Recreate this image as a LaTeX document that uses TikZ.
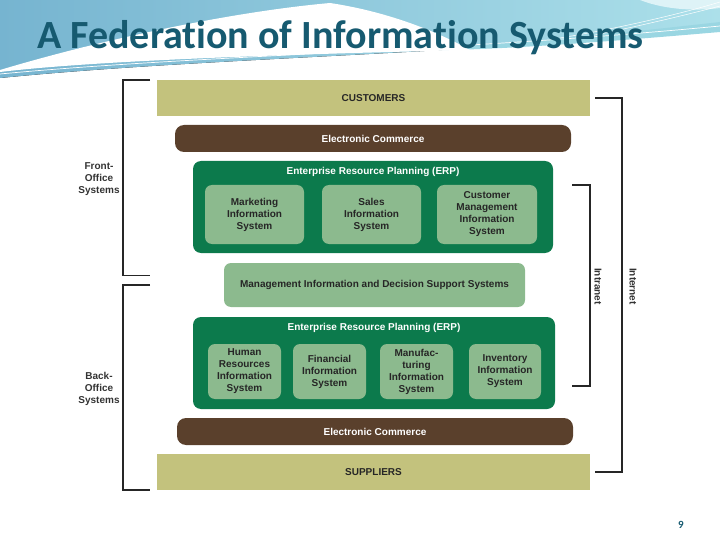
\documentclass[tikz,border=0pt]{standalone}
\usepackage{fontspec}
\setmainfont{Liberation Sans}
\newfontfamily\titlefont[Ligatures=NoCommon]{Carlito}
\definecolor{olivebox}{RGB}{195,194,125}
\definecolor{brownbox}{RGB}{90,64,44}
\definecolor{erpgreen}{RGB}{12,122,76}
\definecolor{lightgreen}{RGB}{140,186,142}
\definecolor{titleblue}{RGB}{22,90,112}
\definecolor{bgblueA}{RGB}{118,180,208}
\definecolor{bgblueB}{RGB}{172,224,234}
\definecolor{bgcyan}{RGB}{110,196,214}
\tikzset{
  layer/.style={inner sep=0pt, font=\bfseries\fontsize{10}{12}\selectfont},
  olivelayer/.style={layer, fill=olivebox, text=black!85},
  ecl/.style={layer, fill=brownbox, text=white, rounded corners=9pt},
  erp/.style={layer, fill=erpgreen, rounded corners=8pt},
  erptitle/.style={text=white, font=\bfseries\fontsize{10}{12}\selectfont, inner sep=0pt},
  sysbox/.style={layer, fill=lightgreen, text=black!85, rounded corners=7pt, align=center},
  brk/.style={line width=1.6pt, black!85},
  sidelabel/.style={align=center, font=\bfseries\fontsize{10}{12}\selectfont, text=black!80, inner sep=0pt},
}
\begin{document}
\begin{tikzpicture}[x=1pt,y=-1pt]
\useasboundingbox (0,0) rectangle (720,540);
% background header
\fill[left color=bgblueA, right color=bgblueB] (0,0) -- (720,0) -- (720,30) .. controls (450,55) and (200,58) .. (0,78) -- cycle;
\fill[bgcyan!70!white] (720,22) .. controls (560,40) and (460,48) .. (400,50) .. controls (470,52) and (580,44) .. (720,32) -- cycle;
\fill[white] (0,70) .. controls (100,40) and (230,12) .. (330,3) .. controls (390,12) and (440,33) .. (470,50) .. controls (300,54) and (100,60) .. (0,72) -- cycle;
\fill[white!60!bgblueB] (640,0) .. controls (660,8) and (690,12) .. (720,8) -- (720,0) -- cycle;
\draw[white, line width=0.7pt] (0,74) .. controls (200,55) and (450,52) .. (720,26);
\draw[white, line width=0.5pt] (560,38) .. controls (620,28) and (680,14) .. (720,2);
\draw[white, line width=0.5pt] (590,36) .. controls (640,26) and (690,14) .. (720,6);
% title
\node[anchor=base west, text=titleblue, font=\titlefont\bfseries\fontsize{40}{45}\selectfont, inner sep=0pt] (title) at (37,49) {A Federation of Information Systems};
% layers
\node[olivelayer, minimum width=433pt, minimum height=36pt] (cust) at (373.5,98) {CUSTOMERS};
\node[ecl, minimum width=396pt, minimum height=27pt] (ec1) at (373,138.5) {Electronic Commerce};
\node[erp, minimum width=360pt, minimum height=92pt] (erp1) at (373,207) {};
\node[erptitle] (erp1t) at (373,172) {Enterprise Resource Planning (ERP)};
\node[sysbox, minimum width=99pt, minimum height=59pt] (mkt) at (254.5,214.5) {Marketing\\Information\\System};
\node[sysbox, minimum width=99pt, minimum height=59pt] (sales) at (371.5,214.5) {Sales\\Information\\System};
\node[sysbox, minimum width=100pt, minimum height=59pt] (cmis) at (487,214.5) {Customer\\Management\\Information\\System};
\node[sysbox, minimum width=301pt, minimum height=44pt] (mis) at (374.5,285) {Management Information and Decision Support Systems};
\node[erp, minimum width=362pt, minimum height=92pt] (erp2) at (374,363) {};
\node[erptitle] (erp2t) at (374,327.5) {Enterprise Resource Planning (ERP)};
\node[sysbox, minimum width=73pt, minimum height=55pt] (hr) at (244.5,371.5) {Human\\Resources\\Information\\System};
\node[sysbox, minimum width=73pt, minimum height=55pt] (fin) at (329.5,371.5) {Financial\\Information\\System};
\node[sysbox, minimum width=73pt, minimum height=55pt] (mfg) at (416.5,371.5) {Manufac-\\turing\\Information\\System};
\node[sysbox, minimum width=72pt, minimum height=55pt] (inv) at (505,371.5) {Inventory\\Information\\System};
\node[ecl, minimum width=396pt, minimum height=27pt] (ec2) at (375,431.5) {Electronic Commerce};
\node[olivelayer, minimum width=433pt, minimum height=36pt] (supp) at (373.5,472) {SUPPLIERS};
% brackets
\coordinate (f1) at (150,80); \coordinate (f2) at (123,80); \coordinate (f3) at (123,275.5); \coordinate (f4) at (150,275.5);
\coordinate (b1) at (150,285); \coordinate (b2) at (123,285); \coordinate (b3) at (123,490); \coordinate (b4) at (150,490);
\draw[brk] (f1) -- (f2) -- (f3) -- (f4);
\draw[brk] (b1) -- (b2) -- (b3) -- (b4);
\node[sidelabel] (front) at (99,179) {Front-\\Office\\Systems};
\node[sidelabel] (back) at (99,389) {Back-\\Office\\Systems};
\coordinate (i1) at (572,185); \coordinate (i2) at (590,185); \coordinate (i3) at (590,386); \coordinate (i4) at (572,386);
\coordinate (n1) at (595,98); \coordinate (n2) at (622,98); \coordinate (n3) at (622,472); \coordinate (n4) at (595,472);
\draw[brk] (i1) -- (i2) -- (i3) -- (i4);
\draw[brk] (n1) -- (n2) -- (n3) -- (n4);
\node[sidelabel, rotate=-90, anchor=west] (intranet) at (598,268) {Intranet};
\node[sidelabel, rotate=-90, anchor=west] (internet) at (633,268) {Internet};
% page number
\node[text=titleblue, font=\titlefont\bfseries\fontsize{11}{12}\selectfont] (pg) at (681,525) {9};
\end{tikzpicture}
\end{document}
